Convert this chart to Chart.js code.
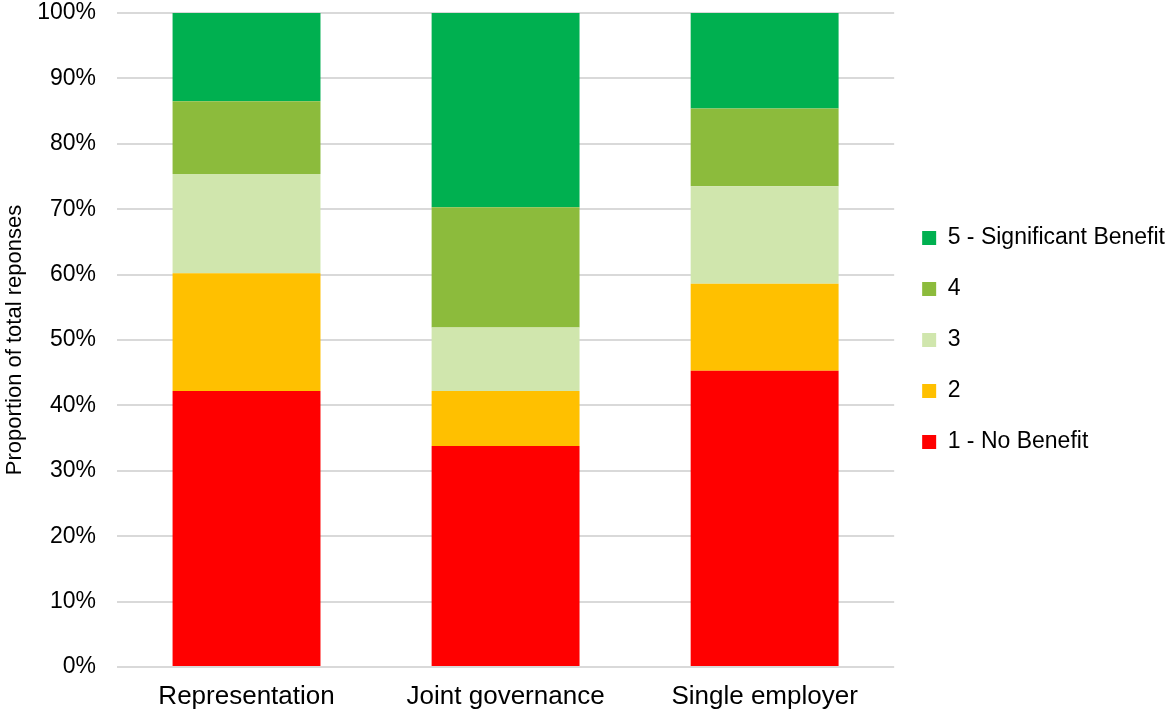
<!DOCTYPE html>
<html>
<head>
<meta charset="utf-8">
<script src="https://cdn.jsdelivr.net/npm/chart.js@4"></script>
<style>
  html, body { margin: 0; padding: 0; background: #fff; }
  #wrap { width: 1167px; height: 713px; }
</style>
</head>
<body>
<div id="wrap"><canvas id="chart"></canvas></div>
<script>
const categories = ['Representation', 'Joint governance', 'Single employer'];
const noBenefit = [42.2, 33.8, 45.3];
const score2 = [18.0, 8.4, 13.3];
const score3 = [15.2, 9.7, 14.9];
const score4 = [11.1, 18.4, 11.9];
const significant = [13.5, 29.7, 14.6];
const yTicks = [0, 10, 20, 30, 40, 50, 60, 70, 80, 90, 100];

const font = 'Arial, "Liberation Sans", sans-serif';

new Chart(document.getElementById('chart'), {
  type: 'bar',
  data: {
    labels: categories,
    datasets: [
      { label: '1 - No Benefit', data: noBenefit, backgroundColor: '#ff0000' },
      { label: '2', data: score2, backgroundColor: '#ffc000' },
      { label: '3', data: score3, backgroundColor: '#d0e6ad' },
      { label: '4', data: score4, backgroundColor: '#8cbb3c' },
      { label: '5 - Significant Benefit', data: significant, backgroundColor: '#00b050' }
    ]
  },
  options: {
    responsive: true,
    maintainAspectRatio: false,
    animation: false,
    layout: { padding: { top: 0, right: -8, bottom: 0, left: 0 } },
    datasets: { bar: { categoryPercentage: 1, barPercentage: 0.571 } },
    scales: {
      x: {
        stacked: true,
        afterFit: (axis) => { axis.height = 46; },
        grid: { display: false },
        border: { display: false },
        ticks: { color: '#000', font: { family: font, size: 26 }, padding: 6 }
      },
      y: {
        stacked: true,
        min: 0,
        max: 100,
        afterBuildTicks: (axis) => { axis.ticks = yTicks.map(v => ({ value: v })); },
        // fixed axis width / top padding so the plot sits where the reference does
        afterFit: (axis) => {
          axis.width = 117;
          axis.paddingTop = 13;
          axis.paddingBottom = 0;
        },
        grid: { color: '#d9d9d9', lineWidth: 2, drawTicks: false },
        border: { display: false },
        ticks: {
          color: '#000',
          font: { family: font, size: 23 },
          padding: 21,
          callback: (v) => v + '%'
        },
        title: {
          display: true,
          text: 'Proportion of total reponses',
          color: '#000',
          font: { family: font, size: 22 },
          padding: { top: 2, bottom: 2 }
        }
      }
    },
    plugins: {
      tooltip: { enabled: false },
      legend: {
        position: 'right',
        fullSize: false,
        reverse: true,
        labels: {
          color: '#000',
          font: { family: font, size: 23 },
          boxWidth: 14,
          boxHeight: 14,
          padding: 28
        }
      }
    }
  }
});
</script>
</body>
</html>
